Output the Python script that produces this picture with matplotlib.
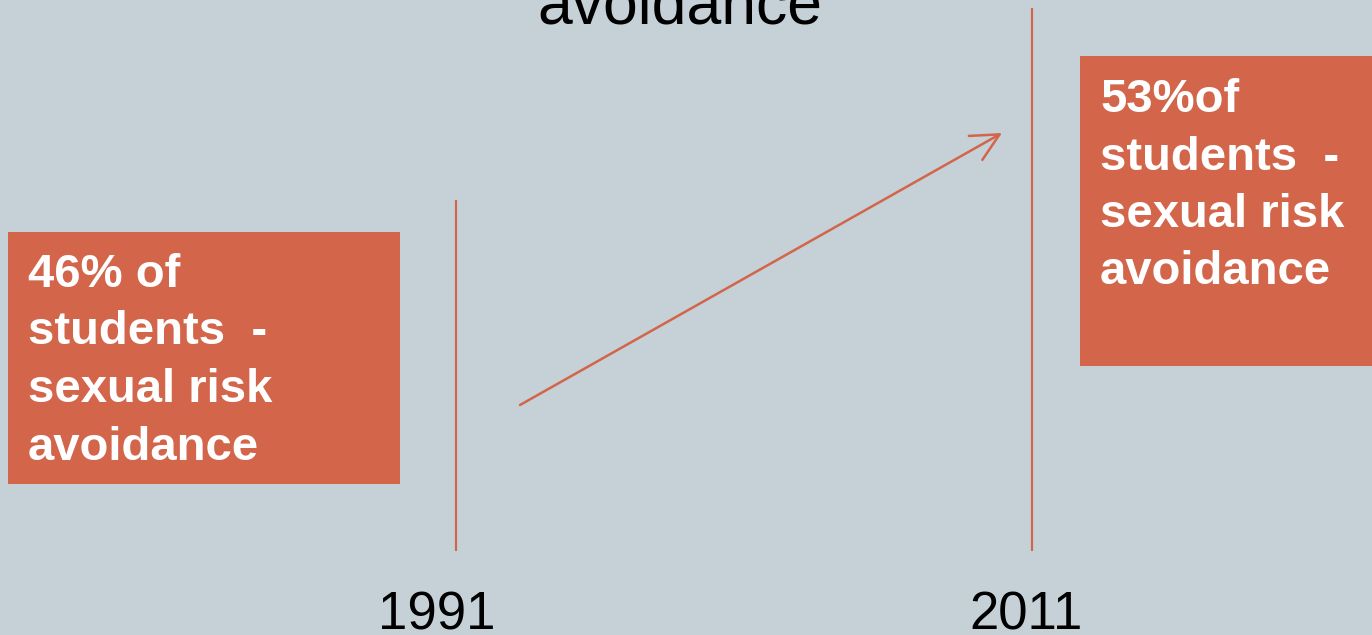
import matplotlib
matplotlib.use("Agg")
import matplotlib.pyplot as plt
from matplotlib.patches import Rectangle

# Data
years = [1991, 2011]
percents = [46, 53]
box_lines = [
    ["46% of", "students  -", "sexual risk", "avoidance"],
    ["53%of", "students  -", "sexual risk", "avoidance"],
]
title_text = "avoidance"

BG = "#C5D1D7"
ORANGE = "#D2654A"
FONT = "Liberation Sans"

W, H = 1372, 635
fig = plt.figure(figsize=(W / 100, H / 100), dpi=100)
fig.patch.set_facecolor(BG)
ax = fig.add_axes([0, 0, 1, 1])
ax.set_facecolor(BG)
ax.set_xlim(0, W)
ax.set_ylim(H, 0)
ax.axis("off")

# Layout (pixel positions)
line_x = [456, 1032]
line_top = [200, 8]
line_bottom = 551
year_x = [437, 1026]
year_baseline = 629
boxes = [(8, 232, 392, 252), (1080, 56, 292, 310)]
text_x = [28, 1100]
first_baseline = [287, 112]
line_step = 57.5

# Title (partially cut off at top)
ax.text(680, 23, title_text, ha="center", va="baseline", fontsize=45,
        family=FONT, color="black")

for i, yr in enumerate(years):
    ax.plot([line_x[i], line_x[i]], [line_top[i], line_bottom], color=ORANGE,
            lw=1.6, solid_capstyle="butt")
    ax.text(year_x[i], year_baseline, str(yr), ha="center", va="baseline",
            fontsize=38, family=FONT, color="black")
    bx, by, bw, bh = boxes[i]
    ax.add_patch(Rectangle((bx, by), bw, bh, facecolor=ORANGE, edgecolor="none"))
    for j, ln in enumerate(box_lines[i]):
        ax.text(text_x[i], first_baseline[i] + j * line_step, ln, ha="left",
                va="baseline", fontsize=34, fontweight="bold", family=FONT,
                color="white")

# Arrow from 1991 toward 2011
ax.annotate("", xy=(1002, 133), xytext=(520, 405),
            arrowprops=dict(arrowstyle="->,head_length=0.9,head_width=0.45",
                            color=ORANGE, lw=1.8, mutation_scale=22,
                            shrinkA=0, shrinkB=0))

fig.savefig("out.png", dpi=100, facecolor=BG)
